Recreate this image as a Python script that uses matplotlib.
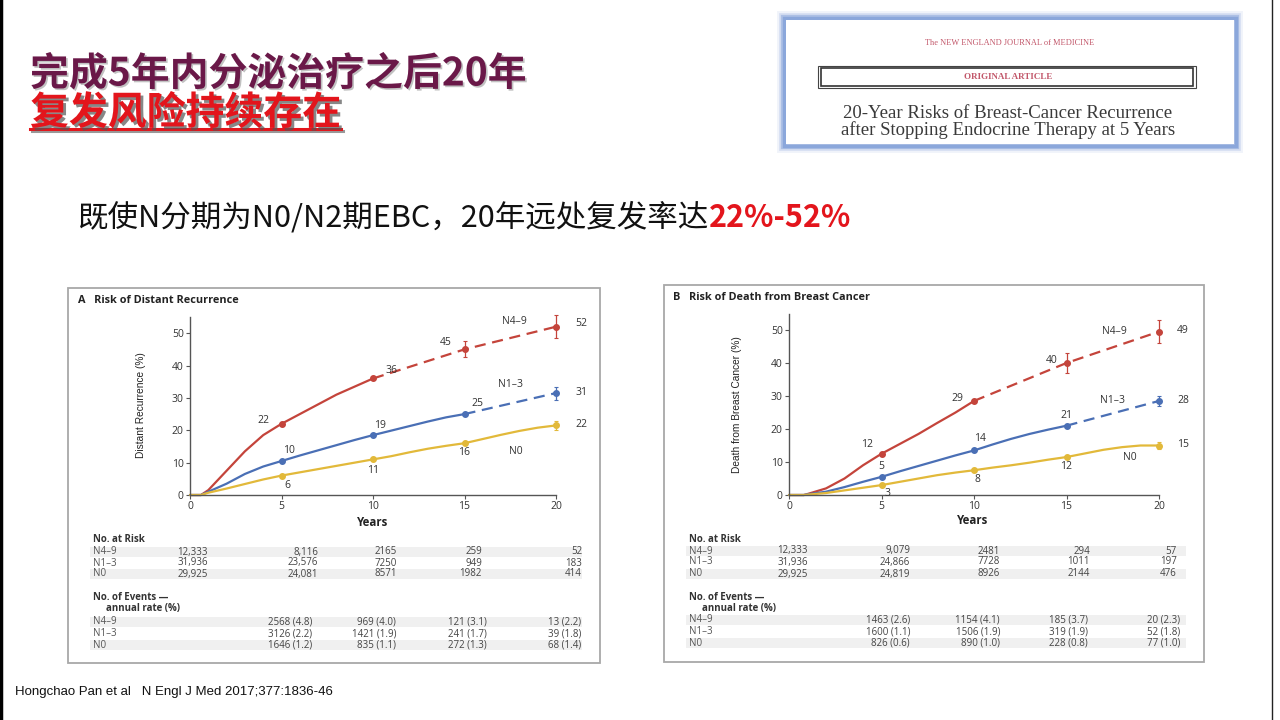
import matplotlib
matplotlib.use("Agg")
import matplotlib.pyplot as plt
from matplotlib import patheffects as pe
from matplotlib.patches import Rectangle
from matplotlib.lines import Line2D

# ---------------- data ----------------
group_names = ["N4–9", "N1–3", "N0"]
mark_years = [5, 10, 15, 20]

# Panel A: risk of distant recurrence (%)
A_n49_years = [0, 0.6, 1, 2, 3, 4, 5, 6, 7, 8, 9, 10]
A_n49_vals = [0, 0, 1.5, 7.5, 13.5, 18.5, 22, 25, 28, 31, 33.5, 36]
A_n49_dash_years = [10, 15, 20]
A_n49_dash_vals = [36, 45, 52]
A_n13_years = [0, 0.6, 1, 2, 3, 4, 5, 6, 7, 8, 9, 10, 11, 12, 13, 14, 15]
A_n13_vals = [0, 0, 1, 3.5, 6.5, 8.8, 10.5, 12.2, 13.8, 15.4, 17, 18.5, 19.9, 21.3, 22.7, 24, 25]
A_n13_dash_years = [15, 20]
A_n13_dash_vals = [25, 31.5]
A_n0_years = [0, 0.6, 1, 2, 3, 4, 5, 6, 7, 8, 9, 10, 11, 12, 13, 14, 15, 16, 17, 18, 19, 20]
A_n0_vals = [0, 0, 0.7, 2, 3.4, 4.8, 6, 7, 8, 9, 10, 11, 12, 13.2, 14.3, 15.2, 16, 17.3, 18.6, 19.8, 20.8, 21.5]
A_marks = [[22, 36, 45, 52], [10.5, 18.5, 25, 31.5], [6, 11, 16, 21.5]]
A_errs = [[0, 0, 2.5, 3.5], [0, 0, 0, 2], [0, 0, 0, 1.5]]
A_labels = [["22", "36", "45", "52"], ["10", "19", "25", "31"], ["6", "11", "16", "22"]]

# Panel B: risk of death from breast cancer (%)
B_n49_years = [0, 0.8, 1, 2, 3, 4, 5, 6, 7, 8, 9, 10]
B_n49_vals = [0, 0, 0.3, 2, 5, 9, 12.5, 15.5, 18.5, 21.8, 25, 28.5]
B_n49_dash_years = [10, 15, 20]
B_n49_dash_vals = [28.5, 40, 49.5]
B_n13_years = [0, 0.8, 1, 2, 3, 4, 5, 6, 7, 8, 9, 10, 11, 12, 13, 14, 15]
B_n13_vals = [0, 0, 0.2, 1, 2.4, 4, 5.5, 7.2, 8.8, 10.4, 12, 13.5, 15.3, 17, 18.5, 19.8, 21]
B_n13_dash_years = [15, 20]
B_n13_dash_vals = [21, 28.5]
B_n0_years = [0, 0.8, 1, 2, 3, 4, 5, 6, 7, 8, 9, 10, 11, 12, 13, 14, 15, 16, 17, 18, 19, 20]
B_n0_vals = [0, 0, 0.1, 0.6, 1.4, 2.2, 3, 4, 5, 6, 6.8, 7.5, 8.3, 9, 9.8, 10.7, 11.5, 12.6, 13.7, 14.5, 15, 15]
B_marks = [[12.5, 28.5, 40, 49.5], [5.5, 13.5, 21, 28.5], [3, 7.5, 11.5, 15]]
B_errs = [[0, 0, 3, 3.5], [0, 0, 0, 1.5], [0, 0, 0, 1]]
B_labels = [["12", "29", "40", "49"], ["5", "14", "21", "28"], ["3", "8", "12", "15"]]

# Tables
A_risk = [["12,333", "8,116", "2165", "259", "52"],
          ["31,936", "23,576", "7250", "949", "183"],
          ["29,925", "24,081", "8571", "1982", "414"]]
A_events = [["2568 (4.8)", "969 (4.0)", "121 (3.1)", "13 (2.2)"],
            ["3126 (2.2)", "1421 (1.9)", "241 (1.7)", "39 (1.8)"],
            ["1646 (1.2)", "835 (1.1)", "272 (1.3)", "68 (1.4)"]]
B_risk = [["12,333", "9,079", "2481", "294", "57"],
          ["31,936", "24,866", "7728", "1011", "197"],
          ["29,925", "24,819", "8926", "2144", "476"]]
B_events = [["1463 (2.6)", "1154 (4.1)", "185 (3.7)", "20 (2.3)"],
            ["1600 (1.1)", "1506 (1.9)", "319 (1.9)", "52 (1.8)"],
            ["826 (0.6)", "890 (1.0)", "228 (0.8)", "77 (1.0)"]]

y_ticks = [0, 10, 20, 30, 40, 50]
x_ticks = [0, 5, 10, 15, 20]

title1 = "完成5年内分泌治疗之后20年"
title2 = "复发风险持续存在"
subtitle_black = "既使N分期为N0/N2期EBC，20年远处复发率达"
subtitle_red = "22%-52%"
citation = "Hongchao Pan et al   N Engl J Med 2017;377:1836-46"

# ---------------- layout ----------------
W, H = 1280, 720
fig = plt.figure(figsize=(12.8, 7.2), dpi=100)
fig.patch.set_facecolor("white")

def fx(x):
    return x / W

def fy(y):
    return 1 - y / H

def ptext(x, y, s, **kw):
    return fig.text(fx(x), fy(y), s, **kw)

CJK = ["Noto Sans CJK SC", "DejaVu Sans"]
SANS = ["Open Sans", "DejaVu Sans"]
SERIF = ["Liberation Serif", "DejaVu Serif"]
TS = 7  # table font size

RED = "#c4443b"
BLUE = "#4a6fb5"
YEL = "#e2b93a"
colors = [RED, BLUE, YEL]

# slide borders
fig.add_artist(Line2D([fx(1), fx(1)], [0, 1], color="black", lw=2.5))
fig.add_artist(Line2D([fx(1272), fx(1272)], [0, 1], color="#222222", lw=1))

# title
ptext(30, 74, title1, fontsize=28, fontweight="bold", color="#6a1848", family=CJK,
      va="center", ha="left",
      path_effects=[pe.SimplePatchShadow(offset=(1.2, -1.2), shadow_rgbFace="#999999", alpha=0.6), pe.Normal()])
t2 = ptext(30, 113, title2, fontsize=28, fontweight="bold", color="#e3151c", family=CJK,
           va="center", ha="left",
           path_effects=[pe.SimplePatchShadow(offset=(2, -2), shadow_rgbFace="#555555", alpha=0.7), pe.Normal()])
renderer = fig.canvas.get_renderer()
bb2 = t2.get_window_extent(renderer=renderer)
fig.add_artist(Line2D([fx(30), bb2.x1 / W], [fy(129), fy(129)], color="#e3151c", lw=2.2,
                      path_effects=[pe.SimpleLineShadow(offset=(1.5, -1.5), shadow_color="#555555", alpha=0.6), pe.Normal()]))

# subtitle
ts = ptext(78, 218, subtitle_black, fontsize=22, color="#111111", family=CJK, va="center", ha="left")
bbs = ts.get_window_extent(renderer=renderer)
fig.text(bbs.x1 / W, fy(218), subtitle_red, fontsize=22, color="#e3151c", fontweight="bold",
         family=CJK, va="center", ha="left")

# NEJM box with glow
for lw, a in [(10, 0.12), (7, 0.25), (4.5, 0.5), (2.5, 0.85)]:
    fig.add_artist(Rectangle((fx(784), fy(146)), (1236 - 784) / W, (146 - 18) / H,
                             transform=fig.transFigure, facecolor="none",
                             edgecolor="#86a3da", lw=lw, alpha=a))
fig.add_artist(Rectangle((fx(786), fy(144)), (1234 - 786) / W, (144 - 20) / H,
                         transform=fig.transFigure, facecolor="white", edgecolor="none"))
ptext(1010, 43, "The NEW ENGLAND JOURNAL of MEDICINE", fontsize=6, color="#c2576a",
      family=SERIF, ha="center", va="center")
fig.add_artist(Rectangle((fx(818), fy(88)), (1196 - 818) / W, (88 - 66) / H,
                         transform=fig.transFigure, facecolor="none", edgecolor="#444444", lw=0.8))
fig.add_artist(Rectangle((fx(821), fy(86)), (1193 - 821) / W, (86 - 68) / H,
                         transform=fig.transFigure, facecolor="none", edgecolor="#333333", lw=1.2))
ptext(1008, 77, "ORIGINAL ARTICLE", fontsize=6.5, color="#c2576a", family=SERIF,
      ha="center", va="center", fontweight="bold")
ptext(1008, 113, "20-Year Risks of Breast-Cancer Recurrence", fontsize=13.5, color="#3a3a3a",
      family=SERIF, ha="center", va="center")
ptext(1008, 130, "after Stopping Endocrine Therapy at 5 Years", fontsize=13.5, color="#3a3a3a",
      family=SERIF, ha="center", va="center")

# citation
ptext(15, 692, citation, fontsize=9.5, color="#111111", family=["Liberation Sans", "DejaVu Sans"],
      ha="left", va="center")


def draw_panel(box, ax_px, title, title_xy, ylabel, ylabel_xy, years_xy,
               solids, dashes, marks, errs, labels, label_off, name_pos,
               tab_x_label, risk_cols, event_cols, risk, events, tab_rows):
    # panel frame
    x0, y0, x1, y1 = box
    fig.add_artist(Rectangle((fx(x0), fy(y1)), (x1 - x0) / W, (y1 - y0) / H,
                             transform=fig.transFigure, facecolor="none",
                             edgecolor="#a8a8a8", lw=1.3))
    L, B, R, T = ax_px
    ax = fig.add_axes([fx(L), fy(B), (R - L) / W, (B - T) / H])
    ax.set_xlim(0, 20)
    ax.set_ylim(0, 55)
    for s in ["top", "right"]:
        ax.spines[s].set_visible(False)
    for s in ["left", "bottom"]:
        ax.spines[s].set_color("#555555")
        ax.spines[s].set_linewidth(1.0)
    ax.set_xticks(x_ticks)
    ax.set_yticks(y_ticks)
    ax.tick_params(axis="both", length=3, width=0.8, color="#555555", labelsize=7.5,
                   labelcolor="#333333", pad=1.5)
    for lab in ax.get_xticklabels() + ax.get_yticklabels():
        lab.set_family(SANS)
    ax.patch.set_alpha(0)

    for i in range(3):
        xs, ys = solids[i]
        ax.plot(xs, ys, color=colors[i], lw=1.6, solid_capstyle="round", clip_on=False)
        if dashes[i] is not None:
            dx, dy = dashes[i]
            ax.plot(dx, dy, color=colors[i], lw=1.6, ls=(0, (5, 3)), clip_on=False)
        ax.errorbar(mark_years, marks[i], yerr=errs[i], fmt="o", ms=4, color=colors[i],
                    mec=colors[i], elinewidth=0.9, capsize=1.5, capthick=0.8, clip_on=False,
                    zorder=5)
        for j in range(4):
            ox, oy = label_off[i][j]
            ax.text(mark_years[j] + ox, marks[i][j] + oy, labels[i][j], fontsize=7.5,
                    color="#333333", family=SANS, ha="center", va="center", clip_on=False)
        nx, ny = name_pos[i]
        ax.text(nx, ny, group_names[i], fontsize=7.5, color="#333333", family=SANS,
                ha="center", va="center", clip_on=False)

    ptext(title_xy[0], title_xy[1], title, fontsize=7.8, fontweight="bold", color="#222222",
          family=SANS, ha="left", va="center")
    ptext(ylabel_xy[0], ylabel_xy[1], ylabel, fontsize=7.3, color="#222222",
          family=["Liberation Sans", "DejaVu Sans"], rotation=90, ha="center", va="center")
    ptext(years_xy[0], years_xy[1], "Years", fontsize=8.3, fontweight="bold", color="#222222",
          family=SANS, ha="center", va="center")

    # tables
    (hr, r1, r2, r3, he1, he2, e1, e2, e3) = tab_rows
    for ry in (r1, r3, e1, e3):
        fig.add_artist(Rectangle((fx(tab_x_label - 3), fy(ry + 5)), (x1 - 15 - tab_x_label) / W, 10 / H,
                                 transform=fig.transFigure, facecolor="#f0f0f0", edgecolor="none"))
    ptext(tab_x_label, hr, "No. at Risk", fontsize=TS, fontweight="bold", color="#333333",
          family=SANS, ha="left", va="center")
    ptext(tab_x_label, he1, "No. of Events —", fontsize=TS, fontweight="bold", color="#333333",
          family=SANS, ha="left", va="center")
    ptext(tab_x_label + 13, he2, "annual rate (%)", fontsize=TS, fontweight="bold", color="#333333",
          family=SANS, ha="left", va="center")
    for k, ry in enumerate((r1, r2, r3)):
        ptext(tab_x_label, ry, group_names[k], fontsize=TS, color="#555555", family=SANS,
              ha="left", va="center")
        for c, cx in enumerate(risk_cols):
            ptext(cx, ry, risk[k][c], fontsize=TS, color="#444444", family=SANS,
                  ha="right", va="center")
    for k, ry in enumerate((e1, e2, e3)):
        ptext(tab_x_label, ry, group_names[k], fontsize=TS, color="#555555", family=SANS,
              ha="left", va="center")
        for c, cx in enumerate(event_cols):
            ptext(cx, ry, events[k][c], fontsize=TS, color="#444444", family=SANS,
                  ha="right", va="center")
    return ax


draw_panel(box=(68, 288, 600, 663), ax_px=(190, 495, 556, 317),
           title="A   Risk of Distant Recurrence", title_xy=(78, 300),
           ylabel="Distant Recurrence (%)", ylabel_xy=(141, 405), years_xy=(373, 523),
           solids=[(A_n49_years, A_n49_vals), (A_n13_years, A_n13_vals), (A_n0_years, A_n0_vals)],
           dashes=[(A_n49_dash_years, A_n49_dash_vals), (A_n13_dash_years, A_n13_dash_vals), None],
           marks=A_marks, errs=A_errs, labels=A_labels,
           label_off=[[(-1.0, 1.0), (1.0, 2.6), (-1.0, 2.2), (1.4, 1.0)],
                      [(0.4, 3.2), (0.4, 3.0), (0.7, 3.2), (1.4, 0.2)],
                      [(0.3, -3.0), (0.0, -3.5), (0.0, -3.0), (1.4, 0.3)]],
           name_pos=[(17.7, 53.5), (17.5, 34), (17.8, 13.5)],
           tab_x_label=93,
           risk_cols=[208, 318, 397, 482, 582], event_cols=[312, 396, 487, 581],
           risk=A_risk, events=A_events,
           tab_rows=(540, 552, 563, 574, 598, 609, 622, 634, 645))

draw_panel(box=(664, 285, 1204, 662), ax_px=(789, 495, 1159, 313.5),
           title="B   Risk of Death from Breast Cancer", title_xy=(673, 297),
           ylabel="Death from Breast Cancer (%)", ylabel_xy=(737, 405), years_xy=(973, 521),
           solids=[(B_n49_years, B_n49_vals), (B_n13_years, B_n13_vals), (B_n0_years, B_n0_vals)],
           dashes=[(B_n49_dash_years, B_n49_dash_vals), (B_n13_dash_years, B_n13_dash_vals), None],
           marks=B_marks, errs=B_errs, labels=B_labels,
           label_off=[[(-0.8, 2.8), (-0.9, 0.8), (-0.8, 0.8), (1.3, 0.2)],
                      [(0.0, 3.0), (0.3, 3.6), (0.0, 3.2), (1.3, 0.2)],
                      [(0.3, -2.4), (0.2, -2.8), (0.0, -3.0), (1.3, 0.4)]],
           name_pos=[(17.6, 49.5), (17.5, 28.5), (18.4, 11.5)],
           tab_x_label=689,
           risk_cols=[808, 910, 1000, 1090, 1177], event_cols=[910, 1000, 1088, 1180],
           risk=B_risk, events=B_events,
           tab_rows=(540, 551, 562, 574, 597, 608, 620, 632, 643))

fig.savefig("out.png", dpi=100, facecolor="white")
